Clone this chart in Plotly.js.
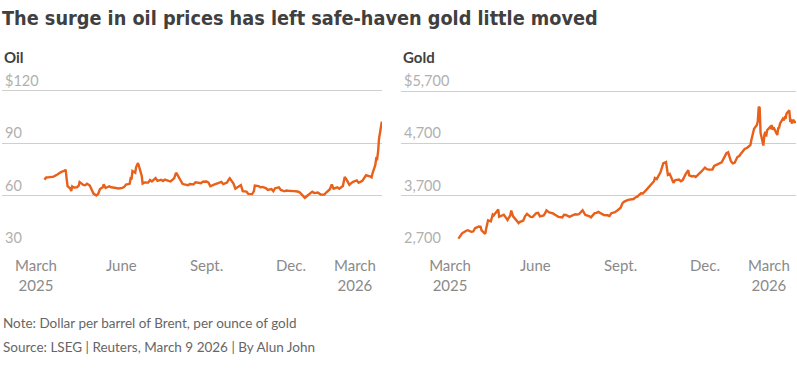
<!DOCTYPE html>
<html>
<head>
<meta charset="utf-8">
<script src="https://cdn.plot.ly/plotly-3.0.1.min.js"></script>
<style>
html,body{margin:0;padding:0;background:#fff;}
#chart{width:797px;height:373px;}
</style>
</head>
<body>
<div id="chart"></div>
<script>
// ---------- Data ----------
const oilDates = ["2025-03-10","2025-03-12","2025-03-14","2025-03-18","2025-03-20","2025-03-24","2025-03-26","2025-03-28","2025-04-01","2025-04-02","2025-04-03","2025-04-04","2025-04-07","2025-04-08","2025-04-09","2025-04-11","2025-04-14","2025-04-16","2025-04-17","2025-04-21","2025-04-23","2025-04-25","2025-04-28","2025-04-30","2025-05-02","2025-05-05","2025-05-07","2025-05-09","2025-05-12","2025-05-13","2025-05-15","2025-05-19","2025-05-21","2025-05-23","2025-05-27","2025-05-29","2025-06-02","2025-06-04","2025-06-06","2025-06-10","2025-06-11","2025-06-12","2025-06-13","2025-06-16","2025-06-17","2025-06-19","2025-06-20","2025-06-23","2025-06-24","2025-06-26","2025-06-30","2025-07-02","2025-07-04","2025-07-08","2025-07-10","2025-07-14","2025-07-16","2025-07-18","2025-07-22","2025-07-24","2025-07-28","2025-07-30","2025-07-31","2025-08-04","2025-08-06","2025-08-08","2025-08-12","2025-08-14","2025-08-18","2025-08-20","2025-08-22","2025-08-26","2025-08-28","2025-09-01","2025-09-03","2025-09-05","2025-09-09","2025-09-11","2025-09-15","2025-09-17","2025-09-19","2025-09-23","2025-09-25","2025-09-26","2025-09-30","2025-10-02","2025-10-06","2025-10-08","2025-10-10","2025-10-14","2025-10-16","2025-10-20","2025-10-22","2025-10-23","2025-10-27","2025-10-29","2025-10-31","2025-11-04","2025-11-06","2025-11-10","2025-11-12","2025-11-14","2025-11-18","2025-11-20","2025-11-24","2025-11-26","2025-11-28","2025-12-02","2025-12-04","2025-12-08","2025-12-10","2025-12-12","2025-12-16","2025-12-18","2025-12-22","2025-12-24","2025-12-26","2025-12-30","2026-01-02","2026-01-06","2026-01-08","2026-01-12","2026-01-14","2026-01-16","2026-01-20","2026-01-22","2026-01-26","2026-01-28","2026-01-30","2026-02-02","2026-02-04","2026-02-06","2026-02-10","2026-02-12","2026-02-16","2026-02-18","2026-02-20","2026-02-24","2026-02-26","2026-02-27","2026-03-02","2026-03-03","2026-03-04","2026-03-05","2026-03-06","2026-03-09"];
const oilValues = [69.3,70.5,70.6,70.6,71.0,72.2,73.0,73.6,74.5,74.9,69.9,65.6,64.2,62.8,65.4,64.8,64.9,65.8,67.9,66.3,66.1,66.9,65.9,63.1,61.3,60.2,61.1,63.9,64.9,66.6,64.5,65.5,64.9,64.8,64.1,64.2,64.6,65.0,66.5,66.9,69.8,69.4,74.2,73.2,76.5,78.8,77.0,71.5,67.1,67.7,67.6,69.1,68.3,70.2,68.6,69.2,68.5,69.3,68.6,68.3,70.0,73.2,72.5,68.8,66.9,66.6,66.1,66.8,66.6,67.8,67.7,67.2,68.1,68.2,67.6,65.5,66.4,66.8,67.3,68.0,66.7,67.6,69.4,70.1,67.0,64.1,65.5,66.2,62.7,62.4,61.1,61.0,62.6,65.9,65.6,64.9,65.1,64.4,63.4,63.9,62.7,64.4,64.9,63.4,62.6,63.1,62.9,62.5,62.7,62.5,62.2,61.1,58.9,59.8,61.5,62.4,61.6,61.9,60.8,60.7,61.9,63.8,66.5,64.1,64.9,64.1,65.6,70.8,69.3,66.3,67.3,68.0,68.8,67.5,68.6,70.4,71.8,71.2,70.6,72.9,77.7,81.4,81.2,85.4,92.7,102.5];

const goldDates = ["2025-03-10","2025-03-12","2025-03-14","2025-03-18","2025-03-20","2025-03-24","2025-03-26","2025-03-28","2025-04-01","2025-04-03","2025-04-04","2025-04-07","2025-04-08","2025-04-09","2025-04-11","2025-04-14","2025-04-16","2025-04-17","2025-04-21","2025-04-22","2025-04-23","2025-04-25","2025-04-28","2025-04-30","2025-05-02","2025-05-05","2025-05-06","2025-05-08","2025-05-12","2025-05-14","2025-05-15","2025-05-19","2025-05-21","2025-05-23","2025-05-27","2025-05-29","2025-06-02","2025-06-04","2025-06-06","2025-06-10","2025-06-12","2025-06-13","2025-06-16","2025-06-18","2025-06-20","2025-06-24","2025-06-26","2025-06-30","2025-07-02","2025-07-04","2025-07-08","2025-07-10","2025-07-14","2025-07-16","2025-07-18","2025-07-22","2025-07-23","2025-07-25","2025-07-29","2025-07-31","2025-08-04","2025-08-06","2025-08-08","2025-08-12","2025-08-14","2025-08-18","2025-08-20","2025-08-22","2025-08-26","2025-08-28","2025-09-01","2025-09-03","2025-09-05","2025-09-09","2025-09-11","2025-09-15","2025-09-17","2025-09-19","2025-09-23","2025-09-25","2025-09-29","2025-10-01","2025-10-03","2025-10-07","2025-10-08","2025-10-10","2025-10-14","2025-10-16","2025-10-17","2025-10-20","2025-10-21","2025-10-22","2025-10-24","2025-10-27","2025-10-28","2025-10-30","2025-11-03","2025-11-05","2025-11-07","2025-11-10","2025-11-12","2025-11-13","2025-11-14","2025-11-17","2025-11-19","2025-11-21","2025-11-25","2025-11-27","2025-12-01","2025-12-03","2025-12-05","2025-12-09","2025-12-11","2025-12-15","2025-12-17","2025-12-19","2025-12-22","2025-12-24","2025-12-26","2025-12-29","2025-12-31","2026-01-02","2026-01-05","2026-01-07","2026-01-09","2026-01-13","2026-01-15","2026-01-19","2026-01-20","2026-01-21","2026-01-22","2026-01-23","2026-01-26","2026-01-27","2026-01-28","2026-01-29","2026-01-30","2026-02-02","2026-02-03","2026-02-04","2026-02-05","2026-02-06","2026-02-09","2026-02-10","2026-02-11","2026-02-12","2026-02-13","2026-02-16","2026-02-17","2026-02-18","2026-02-19","2026-02-20","2026-02-23","2026-02-24","2026-02-25","2026-02-26","2026-02-27","2026-03-02","2026-03-03","2026-03-04","2026-03-05","2026-03-06","2026-03-09"];
const goldValues = [2885,2935,2985,3030,3045,3015,3020,3085,3115,3110,3040,2990,2975,3080,3235,3215,3340,3325,3420,3440,3300,3320,3340,3290,3240,3330,3420,3310,3230,3180,3200,3230,3315,3355,3300,3295,3370,3375,3310,3325,3385,3425,3385,3375,3365,3320,3300,3290,3340,3335,3300,3320,3350,3345,3350,3425,3400,3335,3315,3290,3370,3375,3395,3345,3335,3330,3315,3370,3390,3415,3475,3560,3590,3625,3630,3640,3670,3685,3750,3745,3820,3860,3880,3980,4040,4020,4150,4260,4320,4345,4150,4100,4120,4010,3950,4000,4010,3980,4000,4110,4180,4190,4090,4070,4080,4060,4130,4160,4240,4210,4200,4200,4270,4300,4330,4340,4440,4510,4530,4360,4320,4330,4440,4460,4510,4600,4610,4670,4760,4840,4930,4980,5050,5120,5400,5380,4900,4660,4850,4920,4830,4950,5010,4980,5050,4960,5010,4890,4860,4990,5000,5080,5170,5140,5190,5170,5270,5330,5110,5130,5080,5150,5090];

const oilTickVals = [30, 60, 90, 120];
const oilTickText = ["30", "60", "90", "$120"];
const goldTickVals = [2700, 3700, 4700, 5700];
const goldTickText = ["2,700", "3,700", "4,700", "$5,700"];
const xTickDates = ["2025-03-01", "2025-06-01", "2025-09-01", "2025-12-01", "2026-02-08"];
const xTickText = ["March<br>2025", "June", "Sept.", "Dec.", "March<br>2026"];

const titleText = "The surge in oil prices has left safe-haven gold little moved";
const panelTitles = ["Oil", "Gold"];
const noteText = "Note: Dollar per barrel of Brent, per ounce of gold";
const sourceText = "Source: LSEG | Reuters, March 9 2026 | By Alun John";

// ---------- Styles ----------
const W = 797, H = 373;
const lineColor = "#e8601a";
const gridColor = "#cfcfcf";
const yLabColor = "#b0b0b0";
const xLabColor = "#8a8a8a";
const FONT = "Lato, 'Open Sans', sans-serif";

const px = v => v / W;
const py = v => 1 - v / H;

const yDomain = [py(249.3), py(70)];

const traces = [
  {x: oilDates, y: oilValues, type: "scatter", mode: "lines", xaxis: "x", yaxis: "y",
   line: {color: lineColor, width: 2.4}, hoverinfo: "x+y"},
  {x: goldDates, y: goldValues, type: "scatter", mode: "lines", xaxis: "x2", yaxis: "y2",
   line: {color: lineColor, width: 2.4}, hoverinfo: "x+y"}
];

function xAxis(domain, range) {
  return {
    domain: domain, range: range, type: "date",
    tickmode: "array", tickvals: xTickDates, ticktext: xTickText,
    showgrid: false, zeroline: false, showline: false, ticks: "",
    tickfont: {family: FONT, size: 15, color: xLabColor},
    ticklabelstandoff: 6, fixedrange: true
  };
}
function yAxis(anchor, range, vals, text) {
  return {
    anchor: anchor, domain: yDomain, range: range,
    tickmode: "array", tickvals: vals, ticktext: text,
    showgrid: true, gridcolor: gridColor, gridwidth: 1,
    zeroline: false, showline: false, ticks: "",
    ticklabelposition: "inside top", ticklabeloverflow: "allow",
    tickfont: {family: FONT, size: 14.5, color: yLabColor},
    fixedrange: true
  };
}

const layout = {
  width: W, height: H,
  margin: {l: 0, r: 0, t: 0, b: 0},
  paper_bgcolor: "#fff", plot_bgcolor: "#fff",
  showlegend: false,
  title: {text: "<b>" + titleText + "</b>", x: px(2), xanchor: "left", y: py(18), yanchor: "middle",
          font: {family: "'DejaVu Sans Condensed', sans-serif", size: 19.7, color: "#404040"}},
  xaxis: xAxis([px(2), px(382)], ["2025-01-23 07:00", "2026-03-09 05:00"]),
  xaxis2: xAxis([px(401), px(796)], ["2025-01-07 02:00", "2026-03-09 05:00"]),
  yaxis: yAxis("x", [29.43, 132.01], oilTickVals, oilTickText),
  yaxis2: yAxis("x2", [2680.9, 6100.5], goldTickVals, goldTickText),
  annotations: [
    {text: "<b>" + panelTitles[0] + "</b>", xref: "paper", yref: "paper", x: px(2), y: py(57),
     xanchor: "left", yanchor: "middle", showarrow: false, font: {family: FONT, size: 15, color: "#404040"}},
    {text: "<b>" + panelTitles[1] + "</b>", xref: "paper", yref: "paper", x: px(401), y: py(57),
     xanchor: "left", yanchor: "middle", showarrow: false, font: {family: FONT, size: 15, color: "#404040"}},
    {text: noteText, xref: "paper", yref: "paper", x: px(1), y: py(323),
     xanchor: "left", yanchor: "middle", showarrow: false, font: {family: FONT, size: 13.5, color: "#666"}},
    {text: sourceText, xref: "paper", yref: "paper", x: px(1), y: py(347),
     xanchor: "left", yanchor: "middle", showarrow: false, font: {family: FONT, size: 13.5, color: "#666"}}
  ]
};

Plotly.newPlot("chart", traces, layout, {displayModeBar: false, staticPlot: true});
</script>
</body>
</html>
